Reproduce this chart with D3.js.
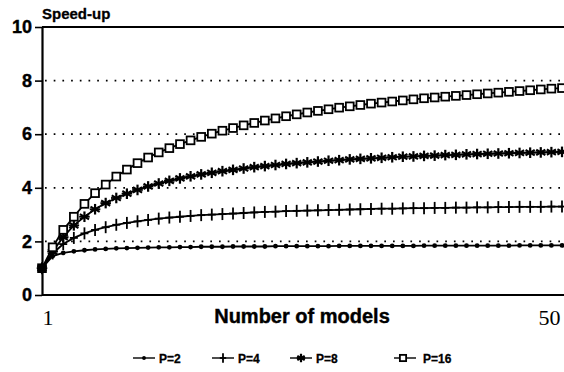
<!DOCTYPE html>
<html>
<head>
<meta charset="utf-8">
<script src="https://cdn.jsdelivr.net/npm/d3@7"></script>
<style>
  body { margin: 0; background: #fff; }
  svg { display: block; }
</style>
</head>
<body>
<div id="chart"></div>
<script>
// Data: speed-up versus number of models (1..50)
const models = d3.range(1, 51);
const seriesNames = ["P=2", "P=4", "P=8", "P=16"];
const speedP2 = [1.00, 1.45, 1.57, 1.63, 1.67, 1.70, 1.72, 1.74, 1.75, 1.76,
  1.77, 1.78, 1.78, 1.79, 1.79, 1.80, 1.80, 1.80, 1.81, 1.81,
  1.81, 1.81, 1.82, 1.82, 1.82, 1.82, 1.82, 1.82, 1.83, 1.83,
  1.83, 1.83, 1.83, 1.83, 1.83, 1.83, 1.84, 1.84, 1.84, 1.84,
  1.84, 1.84, 1.84, 1.84, 1.84, 1.85, 1.85, 1.85, 1.85, 1.85];
const speedP4 = [1.00, 1.55, 1.90, 2.13, 2.30, 2.43, 2.53, 2.62, 2.69, 2.75,
  2.80, 2.85, 2.89, 2.92, 2.95, 2.98, 3.00, 3.02, 3.04, 3.06,
  3.08, 3.10, 3.11, 3.13, 3.14, 3.15, 3.16, 3.17, 3.18, 3.19,
  3.20, 3.21, 3.22, 3.22, 3.23, 3.24, 3.24, 3.25, 3.25, 3.26,
  3.26, 3.27, 3.27, 3.28, 3.28, 3.29, 3.29, 3.29, 3.30, 3.30];
const speedP8 = [1.00, 1.62, 2.16, 2.60, 2.92, 3.20, 3.43, 3.62, 3.78, 3.92,
  4.05, 4.16, 4.26, 4.35, 4.43, 4.50, 4.56, 4.62, 4.67, 4.72,
  4.77, 4.81, 4.85, 4.89, 4.92, 4.95, 4.98, 5.01, 5.03, 5.06,
  5.08, 5.10, 5.12, 5.14, 5.16, 5.17, 5.19, 5.20, 5.22, 5.23,
  5.25, 5.26, 5.27, 5.28, 5.29, 5.30, 5.31, 5.32, 5.33, 5.34];
const speedP16 = [1.00, 1.78, 2.43, 2.92, 3.40, 3.80, 4.12, 4.42, 4.68, 4.92,
  5.13, 5.32, 5.48, 5.63, 5.77, 5.90, 6.02, 6.13, 6.23, 6.33,
  6.42, 6.51, 6.59, 6.67, 6.74, 6.81, 6.87, 6.93, 6.99, 7.04,
  7.09, 7.14, 7.18, 7.22, 7.26, 7.30, 7.34, 7.37, 7.40, 7.43,
  7.46, 7.49, 7.52, 7.55, 7.58, 7.61, 7.64, 7.67, 7.70, 7.72];
const yTicks = [0, 2, 4, 6, 8, 10];
const gridValues = [2, 4, 6, 8];
const xLabels = [1, 50];

const series = [
  { name: seriesNames[0], values: speedP2, marker: "dot" },
  { name: seriesNames[1], values: speedP4, marker: "plus" },
  { name: seriesNames[2], values: speedP8, marker: "star" },
  { name: seriesNames[3], values: speedP16, marker: "square" }
];

const W = 564, H = 372;
const margin = { top: 27, right: 2, bottom: 77, left: 42 };

const svg = d3.select("#chart")
  .append("svg")
    .attr("width", W)
    .attr("height", H)
    .style("font-family", "'Liberation Sans', Arial, sans-serif");

const x = d3.scaleLinear().domain([1, 50]).range([margin.left, W - margin.right]);
const y = d3.scaleLinear().domain([0, 10]).range([H - margin.bottom, margin.top]);

// dotted gridlines
svg.append("g")
  .selectAll("line")
  .data(gridValues)
  .enter()
  .append("line")
    .attr("x1", margin.left + 3)
    .attr("x2", W)
    .attr("y1", d => y(d))
    .attr("y2", d => y(d))
    .attr("stroke", "#000")
    .attr("stroke-width", 1.7)
    .attr("stroke-dasharray", "1.7,7");

// top frame line
svg.append("line")
  .attr("x1", margin.left)
  .attr("x2", W)
  .attr("y1", y(10))
  .attr("y2", y(10))
  .attr("stroke", "#000")
  .attr("stroke-width", 2);

// Y axis
const yAxis = svg.append("g")
  .attr("transform", `translate(${margin.left},0)`)
  .call(d3.axisLeft(y).tickValues(yTicks).tickSize(7).tickSizeOuter(0).tickPadding(3));
yAxis.select(".domain").attr("stroke-width", 2.2);
yAxis.selectAll(".tick line").attr("stroke-width", 1.6);
yAxis.selectAll("text")
  .style("font-size", "18px")
  .style("font-weight", "bold")
  .style("font-family", "'Liberation Sans', Arial, sans-serif")
  .style("stroke", "#000")
  .style("stroke-width", "0.4px")
  .attr("fill", "#000");

// X axis
const xAxis = svg.append("g")
  .attr("transform", `translate(0,${y(0)})`)
  .call(d3.axisBottom(x).tickValues(xLabels).tickSize(0).tickSizeOuter(0).tickPadding(14));
xAxis.select(".domain").attr("stroke-width", 2.2).attr("d", `M${margin.left},0H${W}`);
xAxis.selectAll("text")
  .style("font-size", "22px")
  .style("font-family", "'Liberation Serif', 'Times New Roman', serif")
  .attr("fill", "#000")
  .attr("text-anchor", d => d === 1 ? "start" : "end")
  .attr("dx", d => d === 1 ? 0 : -2);

// axis titles
svg.append("text")
  .attr("x", margin.left)
  .attr("y", 19)
  .style("font-size", "15px")
  .style("font-weight", "bold")
  .style("stroke", "#000")
  .style("stroke-width", "0.3px")
  .text("Speed-up");

svg.append("text")
  .attr("x", 302)
  .attr("y", 323)
  .attr("text-anchor", "middle")
  .style("font-size", "20px")
  .style("font-weight", "bold")
  .style("stroke", "#000")
  .style("stroke-width", "0.4px")
  .text("Number of models");

// marker drawing
function drawMarker(g, type, size) {
  const s = size || 1;
  if (type === "dot") {
    g.append("circle").attr("r", 2.4 * s).attr("fill", "#000");
  } else if (type === "plus") {
    g.append("line").attr("x1", 0).attr("x2", 0).attr("y1", -6 * s).attr("y2", 6 * s)
      .attr("stroke", "#000").attr("stroke-width", 1.8);
    g.append("line").attr("x1", -4 * s).attr("x2", 4 * s).attr("y1", 0).attr("y2", 0)
      .attr("stroke", "#000").attr("stroke-width", 1.8);
  } else if (type === "star") {
    const r = 5.3 * s;
    [90, 30, 150].forEach(a => {
      const rad = a * Math.PI / 180;
      g.append("line")
        .attr("x1", -r * Math.cos(rad)).attr("y1", -r * Math.sin(rad))
        .attr("x2", r * Math.cos(rad)).attr("y2", r * Math.sin(rad))
        .attr("stroke", "#000").attr("stroke-width", 2.2);
    });
    g.append("line").attr("x1", -r).attr("x2", r).attr("y1", 0).attr("y2", 0)
      .attr("stroke", "#000").attr("stroke-width", 1.8);
  } else if (type === "square") {
    g.append("rect").attr("x", -3.9 * s).attr("y", -3.9 * s)
      .attr("width", 7.8 * s).attr("height", 7.8 * s)
      .attr("fill", "#fff").attr("stroke", "#000").attr("stroke-width", 1.8);
  }
}

const line = d3.line()
  .x((d, i) => x(models[i]))
  .y(d => y(d));

// Lines and markers
series.forEach(s => {
  const g = svg.append("g");
  g.append("path")
    .datum(s.values)
    .attr("d", line)
    .attr("fill", "none")
    .attr("stroke", "#000")
    .attr("stroke-width", 1.8);
  g.selectAll("g.m")
    .data(s.values)
    .enter()
    .append("g")
      .attr("class", "m")
      .attr("transform", (d, i) => `translate(${x(models[i])},${y(d)})`)
      .each(function() { drawMarker(d3.select(this), s.marker); });
});

// big start point where all series meet
svg.append("circle")
  .attr("cx", x(models[0]))
  .attr("cy", y(speedP2[0]))
  .attr("r", 4.5)
  .attr("fill", "#000");

// Legend
const legendX = [133, 212, 290, 394];
const legendY = 358;
series.forEach((s, i) => {
  const g = svg.append("g").attr("transform", `translate(${legendX[i]},${legendY})`);
  g.append("line")
    .attr("x1", 0).attr("x2", 22)
    .attr("y1", 0).attr("y2", 0)
    .attr("stroke", "#000").attr("stroke-width", 1.4);
  const m = g.append("g").attr("transform", `translate(${i === 3 ? 9 : 11},0)`);
  drawMarker(m, s.marker, 0.8);
  g.append("text")
    .attr("x", i === 3 ? 29 : 26)
    .attr("y", 4.5)
    .style("font-size", "12px")
    .style("font-weight", "bold")
    .style("stroke", "#000")
    .style("stroke-width", "0.3px")
    .text(s.name);
});
</script>
</body>
</html>
